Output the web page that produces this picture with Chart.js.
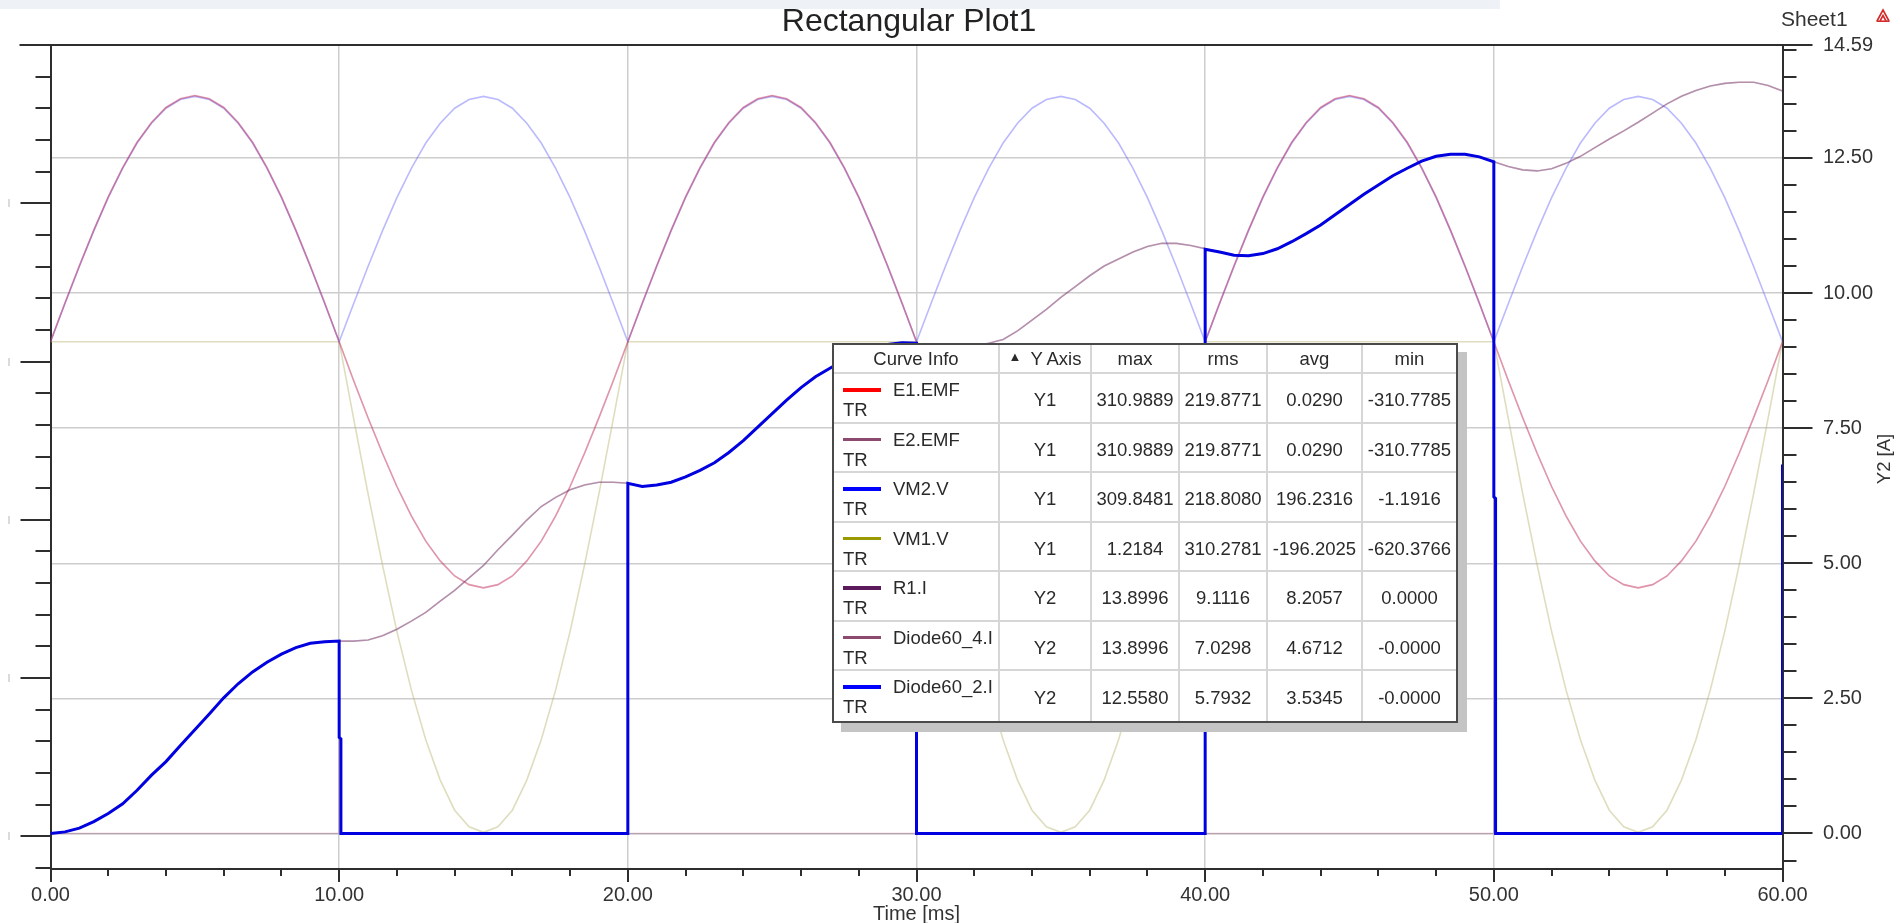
<!DOCTYPE html>
<html>
<head>
<meta charset="utf-8">
<title>Rectangular Plot1</title>
<script src="https://cdn.jsdelivr.net/npm/chart.js@4.4.1/dist/chart.umd.min.js"></script>
<style>
  html, body { margin:0; padding:0; background:#ffffff; }
  #stage { position:relative; width:1900px; height:923px; overflow:hidden;
           font-family:"Liberation Sans", Arial, Helvetica, sans-serif; color:#2b2b2b; }
  #band { position:absolute; left:0; top:0; width:1500px; height:9px; background:#eef2f7; }
  #chart { position:absolute; left:0; top:0; }
  #title { position:absolute; left:0; width:1818px; top:1px; text-align:center;
           font-size:32px; line-height:38px; color:#222; white-space:nowrap; }
  #sheet { position:absolute; left:1781px; top:7px; font-size:21px; line-height:24px; color:#333; }
  #icon { position:absolute; left:1876px; top:8px; }
  #legendBox { position:absolute; left:832px; top:343px; width:626px; height:380px;
               box-sizing:border-box; border:2px solid #4a4a4a; background:#fff;
               box-shadow:9px 9px 0 #c4c4c4; display:grid;
               grid-template-columns:166px 92px 88px 88px 95px 93px;
               grid-template-rows:29px repeat(7, 49.5px);
               font-size:18.5px; color:#2a2a2a; }
  .cell { box-sizing:border-box; border-right:2px solid #d6d6d6; border-bottom:2px solid #d6d6d6;
          display:flex; align-items:center; justify-content:center; white-space:nowrap; }
  .cell.last { border-right:none; }
  .cell.val { padding-top:5px; }
  .cell.ci { position:relative; display:block; }
  .sw { position:absolute; left:9px; top:14px; width:38px; height:3.5px; }
  .nm { position:absolute; left:59px; top:6px; line-height:20px; }
  .trl { position:absolute; left:9px; top:26px; line-height:20px; }
  .tri { font-size:13px; margin-right:9px; position:relative; top:-2px; }
</style>
</head>
<body>
<div id="stage">
  <div id="band"></div>
  <canvas id="chart" width="1900" height="923"></canvas>
  <div id="title">Rectangular Plot1</div>
  <div id="sheet">Sheet1</div>
  <svg id="icon" width="14" height="15" viewBox="0 0 14 15">
    <g stroke="#d42a2a" stroke-width="1.6" fill="none">
      <path d="M1 13 L7 2 L13 13"/><path d="M4 13 L7 7.5 L10 13"/><path d="M0.5 13.2 H13.5"/>
    </g>
  </svg>
  <div id="legendBox"></div>
</div>
<script>
// ---------------- data ----------------
const timeMs = [0,0.5,1,1.5,2,2.5,3,3.5,4,4.5,5,5.5,6,6.5,7,7.5,8,8.5,9,9.5,
  10,10.5,11,11.5,12,12.5,13,13.5,14,14.5,15,15.5,16,16.5,17,17.5,18,18.5,19,19.5,
  20,20.5,21,21.5,22,22.5,23,23.5,24,24.5,25,25.5,26,26.5,27,27.5,28,28.5,29,29.5,
  30,30.5,31,31.5,32,32.5,33,33.5,34,34.5,35,35.5,36,36.5,37,37.5,38,38.5,39,39.5,
  40,40.5,41,41.5,42,42.5,43,43.5,44,44.5,45,45.5,46,46.5,47,47.5,48,48.5,49,49.5,
  50,50.5,51,51.5,52,52.5,53,53.5,54,54.5,55,55.5,56,56.5,57,57.5,58,58.5,59,59.5,60];

const e1EMF = [0,49,96,141,183,220,252,277,296,307,311,307,296,277,252,220,183,141,96,49,
  0,-49,-96,-141,-183,-220,-252,-277,-296,-307,-311,-307,-296,-277,-252,-220,-183,-141,-96,-49,
  0,49,96,141,183,220,252,277,296,307,311,307,296,277,252,220,183,141,96,49,
  0,-49,-96,-141,-183,-220,-252,-277,-296,-307,-311,-307,-296,-277,-252,-220,-183,-141,-96,-49,
  0,49,96,141,183,220,252,277,296,307,311,307,296,277,252,220,183,141,96,49,
  0,-49,-96,-141,-183,-220,-252,-277,-296,-307,-311,-307,-296,-277,-252,-220,-183,-141,-96,-49,0];

const e2EMF = [0,49,96,141,183,220,252,277,296,307,311,307,296,277,252,220,183,141,96,49,
  0,-49,-96,-141,-183,-220,-252,-277,-296,-307,-311,-307,-296,-277,-252,-220,-183,-141,-96,-49,
  0,49,96,141,183,220,252,277,296,307,311,307,296,277,252,220,183,141,96,49,
  0,-49,-96,-141,-183,-220,-252,-277,-296,-307,-311,-307,-296,-277,-252,-220,-183,-141,-96,-49,
  0,49,96,141,183,220,252,277,296,307,311,307,296,277,252,220,183,141,96,49,
  0,-49,-96,-141,-183,-220,-252,-277,-296,-307,-311,-307,-296,-277,-252,-220,-183,-141,-96,-49,0];

const vm2V = [0,48,95,140,182,219,251,276,295,306,310,306,295,276,251,219,182,140,95,48,
  0,48,95,140,182,219,251,276,295,306,310,306,295,276,251,219,182,140,95,48,
  0,48,95,140,182,219,251,276,295,306,310,306,295,276,251,219,182,140,95,48,
  0,48,95,140,182,219,251,276,295,306,310,306,295,276,251,219,182,140,95,48,
  0,48,95,140,182,219,251,276,295,306,310,306,295,276,251,219,182,140,95,48,
  0,48,95,140,182,219,251,276,295,306,310,306,295,276,251,219,182,140,95,48,0];

const vm1V = [0,0,0,0,0,0,0,0,0,0,0,0,0,0,0,0,0,0,0,0,
  0,-97,-192,-282,-366,-440,-503,-554,-592,-613,-620,-613,-592,-554,-503,-440,-366,-282,-192,-97,
  0,0,0,0,0,0,0,0,0,0,0,0,0,0,0,0,0,0,0,0,
  0,-97,-192,-282,-366,-440,-503,-554,-592,-613,-620,-613,-592,-554,-503,-440,-366,-282,-192,-97,
  0,0,0,0,0,0,0,0,0,0,0,0,0,0,0,0,0,0,0,0,
  0,-97,-192,-282,-366,-440,-503,-554,-592,-613,-620,-613,-592,-554,-503,-440,-366,-282,-192,-97,0];

const r1I = [0,0.03,0.1,0.22,0.37,0.55,0.8,1.08,1.33,1.63,1.92,2.21,2.51,2.77,2.99,3.17,3.32,3.44,3.52,3.55,
  3.56,3.56,3.58,3.66,3.78,3.93,4.09,4.3,4.5,4.73,4.96,5.25,5.52,5.8,6.05,6.22,6.36,6.45,6.5,6.5,
  6.48,6.42,6.45,6.5,6.6,6.72,6.86,7.05,7.27,7.52,7.77,8.02,8.25,8.45,8.61,8.76,8.88,8.98,9.05,9.08,
  9.07,9.02,8.99,8.99,9.02,9.07,9.14,9.3,9.5,9.7,9.92,10.12,10.32,10.5,10.63,10.76,10.86,10.92,10.92,10.88,
  10.82,10.76,10.7,10.69,10.73,10.82,10.95,11.1,11.26,11.45,11.64,11.83,12.0,12.17,12.31,12.44,12.53,12.57,12.57,12.52,
  12.43,12.34,12.28,12.26,12.3,12.4,12.53,12.69,12.85,13.0,13.16,13.33,13.5,13.64,13.75,13.83,13.88,13.9,13.9,13.84,13.74];

const tDiode2 = [0,0.5,1,1.5,2,2.5,3,3.5,4,4.5,5,5.5,6,6.5,7,7.5,8,8.5,9,9.5,10,
  10,10.06,10.06,20,20,
  20.5,21,21.5,22,22.5,23,23.5,24,24.5,25,25.5,26,26.5,27,27.5,28,28.5,29,29.5,30,
  30,40,40,
  40.5,41,41.5,42,42.5,43,43.5,44,44.5,45,45.5,46,46.5,47,47.5,48,48.5,49,49.5,50,
  50,50.06,50.06,60,60];
const diode2I = [0,0.03,0.1,0.22,0.37,0.55,0.8,1.08,1.33,1.63,1.92,2.21,2.51,2.77,2.99,3.17,3.32,3.44,3.52,3.55,3.56,
  1.78,1.75,0,0,6.48,
  6.42,6.45,6.5,6.6,6.72,6.86,7.05,7.27,7.52,7.77,8.02,8.25,8.45,8.61,8.76,8.88,8.98,9.05,9.08,9.07,
  0,0,10.81,
  10.76,10.7,10.69,10.73,10.82,10.95,11.1,11.26,11.45,11.64,11.83,12.0,12.17,12.31,12.44,12.53,12.57,12.57,12.52,12.43,
  6.23,6.2,0,0,6.83];

const tDiode4 = [0,10,10,
  10.5,11,11.5,12,12.5,13,13.5,14,14.5,15,15.5,16,16.5,17,17.5,18,18.5,19,19.5,20,
  20,30,30,
  30.5,31,31.5,32,32.5,33,33.5,34,34.5,35,35.5,36,36.5,37,37.5,38,38.5,39,39.5,40,
  40,50,50,
  50.5,51,51.5,52,52.5,53,53.5,54,54.5,55,55.5,56,56.5,57,57.5,58,58.5,59,59.5,60];
const diode4I = [0,0,3.56,
  3.56,3.58,3.66,3.78,3.93,4.09,4.3,4.5,4.73,4.96,5.25,5.52,5.8,6.05,6.22,6.36,6.45,6.5,6.5,6.48,
  0,0,9.07,
  9.02,8.99,8.99,9.02,9.07,9.14,9.3,9.5,9.7,9.92,10.12,10.32,10.5,10.63,10.76,10.86,10.92,10.92,10.88,10.82,
  0,0,12.43,
  12.34,12.28,12.26,12.3,12.4,12.53,12.69,12.85,13.0,13.16,13.33,13.5,13.64,13.75,13.83,13.88,13.9,13.9,13.84,13.74];

// axis ticks
const xTickStep = 2;
const xLabelEvery = 10;
const y2TickValues = [-0.5,0,0.5,1,1.5,2,2.5,3,3.5,4,4.5,5,5.5,6,6.5,7,7.5,8,8.5,9,9.5,10,10.5,11,11.5,12,12.5,13,13.5,14,14.5,14.59];
const y2TickLabels = ['0.00','2.50','5.00','7.50','10.00','12.50','14.59'];
const y1TickValues = [374.9,334.9,294.9,254.9,214.9,174.9,134.9,94.9,54.9,14.9,-25.1,-65.1,-105.1,-145.1,-185.1,
  -225.1,-265.1,-305.1,-345.1,-385.1,-425.1,-465.1,-505.1,-545.1,-585.1,-625.1,-665.1];

// legend table
const curveNames = ['E1.EMF','E2.EMF','VM2.V','VM1.V','R1.I','Diode60_4.I','Diode60_2.I'];
const curveColors = ['#ff0000','#8c4a6e','#0000ff','#999900','#5c1a5c','#8c4a6e','#0000ff'];
const curveAxis = ['Y1','Y1','Y1','Y1','Y2','Y2','Y2'];
const statMax = ['310.9889','310.9889','309.8481','1.2184','13.8996','13.8996','12.5580'];
const statRms = ['219.8771','219.8771','218.8080','310.2781','9.1116','7.0298','5.7932'];
const statAvg = ['0.0290','0.0290','196.2316','-196.2025','8.2057','4.6712','3.5345'];
const statMin = ['-310.7785','-310.7785','-1.1916','-620.3766','0.0000','-0.0000','-0.0000'];

// ---------------- legend table ----------------
(function buildTable(){
  const box = document.getElementById('legendBox');
  const hdr = ['Curve Info','<span class="tri">&#9650;</span>Y Axis','max','rms','avg','min'];
  let html = '';
  hdr.forEach((h, j) => { html += `<div class="cell${j===5?' last':''}">${h}</div>`; });
  curveNames.forEach((n, i) => {
    const lastRow = i === curveNames.length - 1 ? ' style="border-bottom:none"' : '';
    html += `<div class="cell ci"${lastRow}><span class="sw" style="background:${curveColors[i]}"></span><span class="nm">${n}</span><span class="trl">TR</span></div>`;
    [curveAxis[i], statMax[i], statRms[i], statAvg[i], statMin[i]].forEach((v, j) => {
      html += `<div class="cell val${j===4?' last':''}"${lastRow}>${v}</div>`;
    });
  });
  box.innerHTML = html;
})();

// ---------------- chart ----------------
const FONT = '"Liberation Sans", Arial, Helvetica, sans-serif';
Chart.defaults.font.family = FONT;
Chart.defaults.color = '#333';

function pts(xs, ys){ return xs.map((x, i) => ({x: x, y: ys[i]})); }
function line(label, xs, ys, color, width, axis, order){
  return { label, data: pts(xs, ys), borderColor: color, borderWidth: width, yAxisID: axis,
           pointRadius: 0, fill: false, tension: 0, order: order, borderJoinStyle: 'miter' };
}

const isY2Major = v => Math.abs(v - 14.59) < 1e-6 || Math.abs(v / 2.5 - Math.round(v / 2.5)) < 1e-6;

const axisDecor = {
  id: 'axisDecor',
  afterDraw(chart){
    const {ctx, chartArea: ca, scales} = chart;
    const x = scales.x, y1 = scales.y1, y2 = scales.y2;
    ctx.save();
    ctx.strokeStyle = '#2e2e2e';
    ctx.lineWidth = 2;
    ctx.beginPath();
    ctx.moveTo(ca.left - 31, Math.round(ca.top)); ctx.lineTo(ca.right + 30, Math.round(ca.top));
    x.ticks.forEach(t => {
      const px = Math.round(x.getPixelForValue(t.value));
      const len = (t.value % xLabelEvery === 0) ? 13 : 7;
      ctx.moveTo(px, ca.bottom); ctx.lineTo(px, ca.bottom + len);
    });
    y1.ticks.forEach((t, i) => {
      const py = Math.round(y1.getPixelForValue(t.value));
      const len = (i % 5 === 0) ? 30 : 15;
      ctx.moveTo(ca.left, py); ctx.lineTo(ca.left - len, py);
    });
    y2.ticks.forEach(t => {
      const py = Math.round(y2.getPixelForValue(t.value));
      const len = isY2Major(t.value) ? 30 : 14;
      ctx.moveTo(ca.right, py); ctx.lineTo(ca.right + len, py);
    });
    ctx.stroke();
    // faint remnants at the far left, next to the Y1 major ticks
    ctx.strokeStyle = '#d0d0d0';
    ctx.lineWidth = 1.5;
    ctx.beginPath();
    y1.ticks.forEach((t, i) => {
      if (i % 5 !== 0 || i === 0) return;
      const py = Math.round(y1.getPixelForValue(t.value));
      ctx.moveTo(9, py - 4); ctx.lineTo(9, py + 4);
    });
    ctx.stroke();
    ctx.fillStyle = '#333';
    ctx.textAlign = 'center';
    ctx.textBaseline = 'middle';
    ctx.font = '20px ' + FONT;
    ctx.fillText('Time [ms]', (ca.left + ca.right) / 2, 914);
    ctx.translate(1885, 459);
    ctx.rotate(-Math.PI / 2);
    ctx.font = '18.5px ' + FONT;
    ctx.fillText('Y2 [A]', 0, 0);
    ctx.restore();
  }
};

new Chart(document.getElementById('chart'), {
  type: 'line',
  data: {
    datasets: [
      line('Diode60_2.I', tDiode2, diode2I, '#0000e0', 3, 'y2', 0),
      line('R1.I', timeMs, r1I, 'rgba(90,20,90,0.30)', 1.6, 'y2', 1),
      line('Diode60_4.I', tDiode4, diode4I, 'rgba(140,70,110,0.32)', 1.6, 'y2', 2),
      line('E1.EMF', timeMs, e1EMF, 'rgba(225,50,70,0.38)', 1.6, 'y1', 3),
      line('E2.EMF', timeMs, e2EMF, 'rgba(110,50,140,0.22)', 1.6, 'y1', 4),
      line('VM2.V', timeMs, vm2V, 'rgba(110,110,250,0.48)', 1.6, 'y1', 5),
      line('VM1.V', timeMs, vm1V, 'rgba(185,180,110,0.45)', 1.6, 'y1', 6)
    ]
  },
  options: {
    responsive: false,
    animation: false,
    devicePixelRatio: 1,
    events: [],
    layout: { padding: { top: 45, left: 0, right: 0, bottom: 0 } },
    plugins: { legend: { display: false }, tooltip: { enabled: false }, title: { display: false } },
    scales: {
      x: {
        type: 'linear', position: 'bottom', min: 0, max: 60,
        ticks: { stepSize: xTickStep, autoSkip: false, maxRotation: 0, minRotation: 0, padding: 14,
                 font: { size: 20 }, color: '#333',
                 callback: v => (v % xLabelEvery === 0 ? Number(v).toFixed(2) : '') },
        grid: { drawTicks: false, lineWidth: 1.5,
                color: c => (c.tick && c.tick.value % xLabelEvery === 0 && c.tick.value > 0 && c.tick.value < 60) ? '#cdcdcd' : 'rgba(0,0,0,0)' },
        border: { display: true, color: '#2e2e2e', width: 2 },
        afterFit: s => { s.height = 54; }
      },
      y1: {
        type: 'linear', position: 'left', min: -666.3, max: 374.9,
        afterBuildTicks: s => { s.ticks = y1TickValues.map(v => ({ value: v })); },
        ticks: { display: false, padding: 0 },
        grid: { display: false, drawTicks: false },
        border: { display: true, color: '#2e2e2e', width: 2 },
        afterFit: s => { s.width = 50.5; }
      },
      y2: {
        type: 'linear', position: 'right', min: -0.657, max: 14.59,
        afterBuildTicks: s => { s.ticks = y2TickValues.map(v => ({ value: v })); },
        ticks: { autoSkip: false, padding: 4.5, font: { size: 20 }, color: '#333',
                 callback: v => {
                   const lbl = Number(v).toFixed(2);
                   return isY2Major(v) && y2TickLabels.includes(lbl) ? lbl : '';
                 } },
        grid: { drawTicks: true, tickLength: 36, tickColor: 'rgba(0,0,0,0)', lineWidth: 1.5,
                color: c => (c.tick && Math.abs(c.tick.value - 14.59) > 1e-6 && isY2Major(c.tick.value)) ? '#cdcdcd' : 'rgba(0,0,0,0)' },
        border: { display: true, color: '#2e2e2e', width: 2 },
        afterFit: s => { s.width = 117.5; }
      }
    }
  },
  plugins: [axisDecor]
});
</script>
</body>
</html>
